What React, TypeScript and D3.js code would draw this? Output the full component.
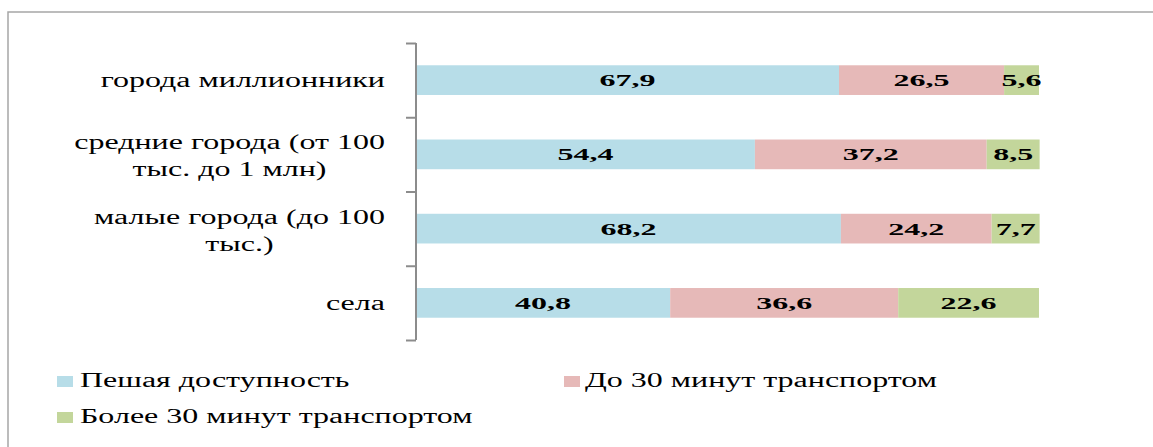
import React, { useEffect, useRef } from "react";
import * as d3 from "d3";

const categories = [
  "города миллионники",
  "средние города (от 100\nтыс. до 1 млн)",
  "малые города (до 100\nтыс.)",
  "села",
];
const seriesNames = ["Пешая доступность", "До 30 минут транспортом", "Более 30 минут транспортом"];
const walking = [67.9, 54.4, 68.2, 40.8];
const upTo30 = [26.5, 37.2, 24.2, 36.6];
const over30 = [5.6, 8.5, 7.7, 22.6];
const colors = ["#B7DDE8", "#E6B9B8", "#C3D69B"];

const W = 1153;
const H = 447;
const FONT = "'Liberation Serif', 'Times New Roman', serif";
const SX = 1.6;

export default function App() {
  const ref = useRef<SVGSVGElement | null>(null);

  useEffect(() => {
    const svg = d3.select(ref.current);
    svg.selectAll("*").remove();

    const keys = ["walking", "upTo30", "over30"];
    const table = categories.map((c, i) => ({
      cat: c,
      walking: walking[i],
      upTo30: upTo30[i],
      over30: over30[i],
    }));
    const stacked = d3.stack<any>().keys(keys)(table);

    const x = d3.scaleLinear().domain([0, 100]).range([416, 1039]);
    const y = d3
      .scaleBand<string>()
      .domain(categories)
      .range([43, 340])
      .paddingInner(0.6)
      .paddingOuter(0.3);

    // frame
    svg
      .append("path")
      .attr("d", `M8,${H} V12 H${W}`)
      .attr("fill", "none")
      .attr("stroke", "#a6a6a6")
      .attr("stroke-width", 1.5);

    // bars
    const g = svg.append("g");
    stacked.forEach((layer, li) => {
      g.selectAll(null)
        .data(layer)
        .enter()
        .append("rect")
        .attr("x", (d: any) => x(d[0]))
        .attr("y", (d: any) => y(d.data.cat)!)
        .attr("width", (d: any) => x(d[1]) - x(d[0]))
        .attr("height", y.bandwidth())
        .attr("fill", colors[li]);
    });

    // value labels
    stacked.forEach((layer) => {
      layer.forEach((d: any) => {
        const v = d[1] - d[0];
        const cx = (x(d[0]) + x(d[1])) / 2;
        const cy = y(d.data.cat)! + y.bandwidth() / 2 + 6;
        svg
          .append("text")
          .attr("transform", `translate(${cx},${cy}) scale(2,1)`)
          .attr("text-anchor", "middle")
          .attr("font-family", FONT)
          .attr("font-weight", "bold")
          .attr("font-size", 16)
          .attr("fill", "#000")
          .text(d3.format(".1f")(v).replace(".", ","));
      });
    });

    // axis
    const yl = d3.scaleLinear().domain([0, categories.length]).range([43, 340]);
    const axis = d3
      .axisLeft(yl)
      .ticks(categories.length)
      .tickSize(10)
      .tickFormat(() => "");
    const ag = svg.append("g").attr("transform", "translate(416,0)").call(axis as any);
    ag.select(".domain").attr("stroke", "#8c8c8c").attr("stroke-width", 2).attr("d", "M0,43V340");
    ag.selectAll(".tick line").attr("stroke", "#8c8c8c").attr("stroke-width", 2);

    // category labels
    categories.forEach((c) => {
      const lines = c.split("\n");
      const center = y(c)! + y.bandwidth() / 2;
      const grp = svg.append("g");
      const texts = lines.map((ln) =>
        grp
          .append("text")
          .attr("font-family", FONT)
          .attr("font-size", 20)
          .attr("fill", "#000")
          .attr("text-anchor", "middle")
          .text(ln)
      );
      const widths = texts.map((t) => (t.node() as SVGTextElement).getComputedTextLength() * SX);
      const maxW = d3.max(widths) || 0;
      const cx = 385 - maxW / 2;
      texts.forEach((t, i) => {
        const by = lines.length === 1 ? center + 7 : center - 5 + i * 27;
        t.attr("transform", `translate(${cx},${by}) scale(${SX},1)`);
      });
    });

    // legend
    const legendPos = [
      { sx: 57, sy: 376, tx: 80, ty: 387 },
      { sx: 564, sy: 376, tx: 585, ty: 387 },
      { sx: 57, sy: 412, tx: 80, ty: 423 },
    ];
    seriesNames.forEach((name, i) => {
      const p = legendPos[i];
      svg
        .append("rect")
        .attr("x", p.sx)
        .attr("y", p.sy)
        .attr("width", 16)
        .attr("height", 11)
        .attr("fill", colors[i]);
      svg
        .append("text")
        .attr("transform", `translate(${p.tx},${p.ty}) scale(${SX},1)`)
        .attr("font-family", FONT)
        .attr("font-size", 20)
        .attr("fill", "#000")
        .text(name);
    });
  }, []);

  return (
    <svg
      ref={ref}
      width={W}
      height={H}
      style={{ position: "absolute", left: 0, top: 0, background: "#fff" }}
    />
  );
}
